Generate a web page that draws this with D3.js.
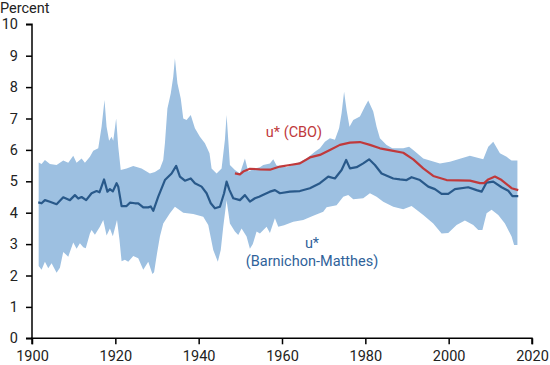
<!DOCTYPE html>
<html>
<head>
<meta charset="utf-8">
<script src="https://cdn.jsdelivr.net/npm/d3@7"></script>
<style>
  html, body { margin: 0; padding: 0; background: #fff; }
  svg { display: block; font-family: Roboto, "Noto Sans", sans-serif; }
</style>
</head>
<body>
<svg id="chart" width="550" height="365"></svg>
<script>
const yTicks = [0, 1, 2, 3, 4, 5, 6, 7, 8, 9, 10];
const xTicks = [1900, 1920, 1940, 1960, 1980, 2000, 2020];

const bandUpperYears = [1901.6,1902.3,1903.1,1904.3,1905.9,1907.5,1908.7,1909.9,1910.7,1911.9,1912.7,1913.9,1914.7,1915.9,1916.7,1917.4,1917.9,1918.5,1919.1,1919.5,1920.2,1920.7,1921.3,1922.7,1924.3,1926.3,1928.3,1929.5,1930.7,1931.5,1931.9,1932.5,1933.3,1933.9,1934.3,1934.9,1935.7,1936.3,1937.1,1938.1,1939.1,1940.3,1941.5,1942.6,1943.1,1944.3,1945.5,1946.3,1946.7,1947.1,1947.5,1948.7,1949.9,1951.1,1951.9,1953.5,1954.7,1955.5,1957.1,1957.9,1958.7,1961.1,1963.5,1965.9,1967.9,1969.1,1970.3,1971.5,1972.7,1973.7,1974.3,1974.9,1975.5,1976.2,1977.1,1978.7,1979.9,1980.7,1981.9,1982.7,1983.5,1985.1,1986.5,1989.1,1990.5,1991.5,1993.9,1997.9,2000.3,2005.1,2008.3,2009.5,2010.7,2012.3,2013.9,2015.1,2016.5];
const bandUpper = [5.6,5.55,5.68,5.55,5.52,5.66,5.59,5.81,5.59,5.73,5.59,5.78,5.97,6.05,6.74,7.59,6.74,6.29,6.42,6.29,7.0,6.1,5.36,5.41,5.49,5.41,5.25,5.3,5.4,5.68,6.21,7.32,7.8,8.33,8.92,8.12,7.64,7.0,6.95,7.11,6.69,6.42,6.21,5.89,5.41,5.25,5.41,6.32,7.11,6.32,5.52,5.36,5.25,5.73,5.31,5.41,5.45,5.52,5.57,5.7,5.5,5.45,5.57,5.73,5.94,6.05,6.26,6.37,6.32,6.69,7.17,7.85,7.27,6.74,6.95,7.06,7.38,7.57,7.22,6.74,6.37,6.16,6.05,6.05,6.1,6.0,5.73,5.57,5.62,5.81,5.7,6.1,6.26,5.89,5.78,5.66,5.66];

const bandLowerYears = [1901.6,1902.3,1903.1,1903.9,1904.7,1905.9,1906.7,1907.5,1908.7,1909.9,1910.7,1911.5,1912.3,1912.9,1913.9,1914.3,1915.1,1916.3,1917.1,1917.9,1918.7,1919.4,1920.4,1921.0,1921.5,1922.3,1923.1,1924.3,1925.5,1926.7,1927.9,1928.9,1929.3,1930.0,1930.7,1931.5,1933.1,1934.3,1936.3,1938.7,1941.1,1942.3,1943.5,1944.6,1945.3,1945.9,1946.7,1947.5,1948.7,1949.5,1950.3,1951.5,1952.3,1953.0,1953.9,1954.7,1956.3,1957.1,1958.3,1959.1,1960.5,1962.7,1965.1,1967.5,1969.9,1970.7,1973.1,1974.7,1975.9,1977.1,1979.5,1981.1,1982.7,1984.3,1986.7,1989.1,1991.1,1993.9,1996.3,1998.3,1999.9,2001.9,2003.9,2005.9,2007.1,2008.1,2009.1,2010.3,2011.9,2013.5,2015.1,2015.7,2016.5];
const bandLower = [2.3,2.18,2.44,2.23,2.39,2.09,2.25,2.75,2.6,3.05,2.85,3.03,2.9,2.87,3.34,3.45,3.3,3.55,3.77,3.27,3.5,3.25,3.77,3.13,2.45,2.5,2.44,2.62,2.55,2.18,2.44,2.05,2.1,2.7,3.24,3.66,3.98,4.19,4.0,3.96,3.87,3.61,2.81,2.44,2.81,3.55,4.4,3.66,3.4,3.29,3.5,3.24,2.85,3.0,3.4,3.34,3.55,3.35,3.82,3.55,3.6,3.71,3.77,3.9,4.03,4.17,4.24,4.51,4.56,4.43,4.46,4.62,4.51,4.35,4.19,4.11,4.21,3.93,3.66,3.34,3.35,3.61,3.75,3.61,3.45,3.45,3.98,4.09,3.93,3.66,3.24,2.97,2.97];

const bmYears = [1901.5,1902.3,1903.1,1904.3,1905.9,1907.5,1909.1,1910.3,1911.1,1911.9,1913.0,1914.3,1915.5,1916.2,1917.3,1918.1,1918.7,1919.4,1920.3,1920.7,1921.5,1922.7,1923.5,1924.7,1925.5,1926.7,1927.9,1928.5,1929.1,1930.3,1931.9,1933.5,1934.6,1935.5,1936.7,1938.1,1939.1,1940.7,1941.9,1942.9,1943.9,1945.1,1946.1,1946.7,1947.4,1948.3,1949.9,1951.1,1952.3,1953.5,1954.5,1956.3,1957.1,1958.3,1959.5,1961.9,1964.3,1966.7,1969.1,1971.1,1972.7,1974.3,1975.4,1976.3,1977.9,1979.5,1980.9,1982.3,1983.9,1986.7,1988.3,1989.9,1991.1,1993.1,1995.1,1996.7,1998.3,1999.9,2001.5,2004.7,2006.7,2007.9,2009.1,2010.7,2012.7,2014.3,2015.3,2016.7];
const bmValues = [4.33,4.3,4.40,4.35,4.27,4.49,4.40,4.56,4.45,4.5,4.4,4.62,4.69,4.65,5.06,4.67,4.75,4.68,4.94,4.83,4.21,4.21,4.32,4.30,4.30,4.17,4.17,4.2,4.06,4.51,5.04,5.25,5.49,5.15,5.02,5.09,4.94,4.83,4.62,4.3,4.14,4.19,4.62,4.99,4.72,4.46,4.4,4.56,4.35,4.46,4.51,4.62,4.67,4.72,4.62,4.67,4.69,4.78,4.94,5.15,5.09,5.36,5.68,5.41,5.45,5.57,5.70,5.52,5.25,5.09,5.06,5.04,5.13,5.04,4.83,4.75,4.6,4.6,4.75,4.81,4.72,4.67,4.96,4.99,4.81,4.70,4.53,4.53];

const cboYears = [1948.7,1949.9,1950.7,1952.3,1954.7,1957.1,1959.5,1961.9,1964.3,1966.7,1969.1,1971.5,1973.9,1976.3,1978.7,1981.1,1983.5,1986.7,1989.1,1991.5,1993.9,1996.3,1999.5,2005.1,2007.5,2008.5,2009.5,2011.1,2012.7,2015.1,2016.7];
const cboValues = [5.25,5.22,5.31,5.40,5.38,5.37,5.47,5.52,5.57,5.76,5.84,6.0,6.16,6.23,6.25,6.16,6.05,5.97,5.91,5.70,5.41,5.17,5.04,5.02,4.94,4.94,5.06,5.15,5.04,4.78,4.72];

const svg = d3.select("#chart");
const x = d3.scaleLinear().domain([1900, 2020]).range([32, 532]);
const y = d3.scaleLinear().domain([0, 10]).range([338.3, 24.3]);

const upperPts = bandUpperYears.map((yr, i) => [x(yr), y(bandUpper[i])]);
const lowerPts = bandLowerYears.map((yr, i) => [x(yr), y(bandLower[i])]).reverse();
const line = d3.line();
svg.append("path")
  .attr("d", line(upperPts.concat(lowerPts)) + "Z")
  .attr("fill", "#9dc0e1")
  .attr("stroke", "none");

svg.append("path")
  .datum(bmYears.map((yr, i) => [yr, bmValues[i]]))
  .attr("d", d3.line().x(d => x(d[0])).y(d => y(d[1])))
  .attr("fill", "none")
  .attr("stroke", "#29598a")
  .attr("stroke-width", 2.2)
  .attr("stroke-linejoin", "round");

svg.append("path")
  .datum(cboYears.map((yr, i) => [yr, cboValues[i]]))
  .attr("d", d3.line().x(d => x(d[0])).y(d => y(d[1])))
  .attr("fill", "none")
  .attr("stroke", "#c0393b")
  .attr("stroke-width", 2.2)
  .attr("stroke-linejoin", "round");

// axes
const yAxis = d3.axisLeft(y).tickValues(yTicks).tickSize(6).tickPadding(8).tickFormat(d3.format("d"));
const gy = svg.append("g").attr("transform", "translate(32,0)").call(yAxis);
gy.select(".domain").attr("stroke", "#000").attr("stroke-width", 1.5).attr("d", `M-6,${y(10)}H0V${y(0)}H-6`);
gy.selectAll(".tick line").attr("stroke", "#000").attr("stroke-width", 1.5);
gy.selectAll("text").attr("font-size", 14.5).attr("fill", "#222").attr("font-family", "Roboto");

const xAxis = d3.axisBottom(x).tickValues(xTicks).tickSize(6).tickPadding(6).tickFormat(d3.format("d"));
const gx = svg.append("g").attr("transform", `translate(0,${y(0)})`).call(xAxis);
gx.select(".domain").attr("stroke", "#000").attr("stroke-width", 1.5).attr("d", `M${x(1900)},6V0H${x(2020)}V6`);
gx.selectAll(".tick line").attr("stroke", "#000").attr("stroke-width", 1.5);
gx.selectAll("text").attr("font-size", 14.5).attr("fill", "#222").attr("font-family", "Roboto");

svg.append("text").attr("x", 0).attr("y", 13).attr("font-size", 14.5).attr("fill", "#222").text("Percent");

svg.append("text").attr("x", 294).attr("y", 137).attr("text-anchor", "middle")
  .attr("font-size", 14.5).attr("fill", "#c0393b").text("u* (CBO)");
svg.append("text").attr("x", 312).attr("y", 248).attr("text-anchor", "middle")
  .attr("font-size", 14.5).attr("fill", "#2f629a").text("u*");
svg.append("text").attr("x", 312).attr("y", 266).attr("text-anchor", "middle")
  .attr("font-size", 14.5).attr("fill", "#2f629a").text("(Barnichon-Matthes)");
</script>
</body>
</html>
